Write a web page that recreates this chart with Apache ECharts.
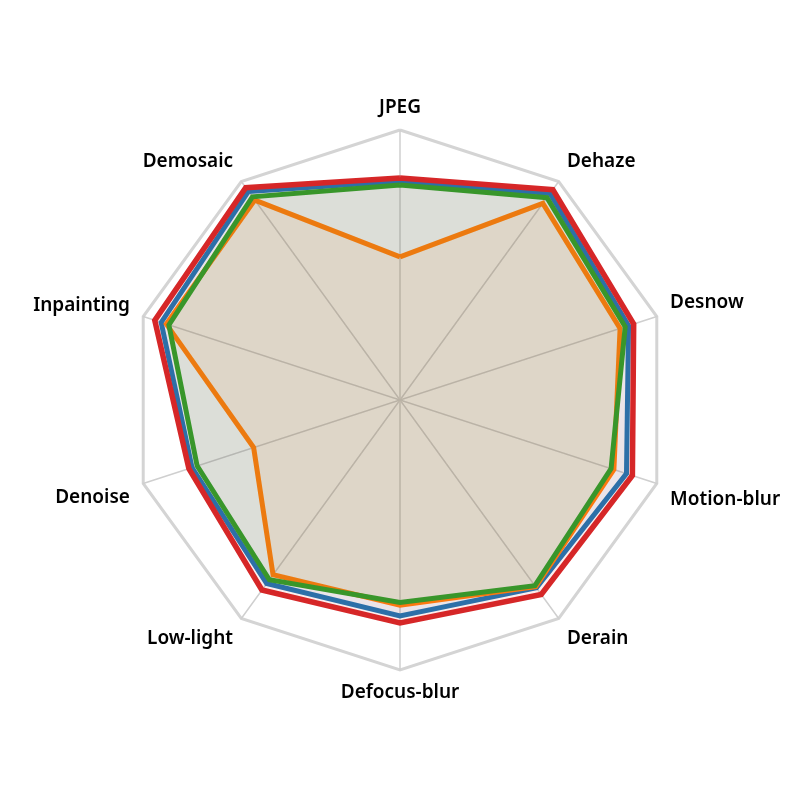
<!DOCTYPE html>
<html>
<head>
<meta charset="utf-8">
<script src="https://cdn.jsdelivr.net/npm/echarts@6/dist/echarts.min.js"></script>
<style>html,body{margin:0;padding:0;background:#fff}#c{width:800px;height:800px}</style>
</head>
<body>
<div id="c"></div>
<script>
// Indicators in ECharts (counter-clockwise) order, starting at top
const categories = ['JPEG','Demosaic','Inpainting','Denoise','Low-light','Defocus-blur','Derain','Motion-blur','Desnow','Dehaze'];
const seriesNames = ['Method A','Method B','Method C','Method D'];
const seriesColors = ['#1f77b4','#ff7f0e','#2ca02c','#d62728'];
const blueValues   = [0.81, 0.955, 0.93, 0.81, 0.84, 0.80, 0.86, 0.882, 0.89, 0.945];
const orangeValues = [0.53, 0.915, 0.91, 0.57, 0.80, 0.76, 0.855, 0.833, 0.857, 0.90];
const greenValues  = [0.796, 0.93, 0.90, 0.79, 0.823, 0.75, 0.85, 0.822, 0.877, 0.926];
const redValues    = [0.822, 0.972, 0.955, 0.822, 0.87, 0.826, 0.89, 0.905, 0.91, 0.963];
const axisMax = 1;

// label vertical nudges (px, + = down), styling only
const labelShift = [4, -9, -7, 10, 9, -3, 9, 12, -10, -9];
const lineWidths = [5, 5, 5, 5.5];

const LH = 24;
const rich = {};
categories.forEach((c, i) => {
  const d = labelShift[i];
  const st = { color: '#000', fontSize: 19, fontWeight: 600, fontFamily: 'Noto Sans, sans-serif', lineHeight: LH };
  if (i === 0 || i === 5) {
    st.lineHeight = LH - 2 * Math.abs(d);
  } else {
    st.padding = d < 0 ? [0, 0, -2 * d, 0] : [2 * d, 0, 0, 0];
  }
  rich['s' + i] = st;
});

const allValues = [blueValues, orangeValues, greenValues, redValues];
const chart = echarts.init(document.getElementById('c'));
chart.setOption({
  animation: false,
  radar: {
    center: ['50%','50%'],
    radius: 270,
    startAngle: 90,
    splitNumber: 1,
    shape: 'polygon',
    indicator: categories.map(n => ({ name: n, min: 0, max: axisMax })),
    axisName: {
      formatter: (name) => '{s' + categories.indexOf(name) + '|' + name + '}',
      rich: rich
    },
    nameGap: 14,
    axisLine: { lineStyle: { color: '#cfcfcf', width: 1.5 } },
    splitLine: { lineStyle: { color: '#d4d4d4', width: 3 } },
    splitArea: { show: false },
    axisTick: { show: false },
    axisLabel: { show: false }
  },
  series: allValues.map((vals, i) => ({
    type: 'radar',
    name: seriesNames[i],
    symbol: 'none',
    z: 2 + i,
    data: [{ value: vals, name: seriesNames[i] }],
    lineStyle: { color: seriesColors[i], width: lineWidths[i], join: 'miter' },
    itemStyle: { color: seriesColors[i] },
    areaStyle: { color: seriesColors[i], opacity: 0.08 }
  }))
});
</script>
</body>
</html>
